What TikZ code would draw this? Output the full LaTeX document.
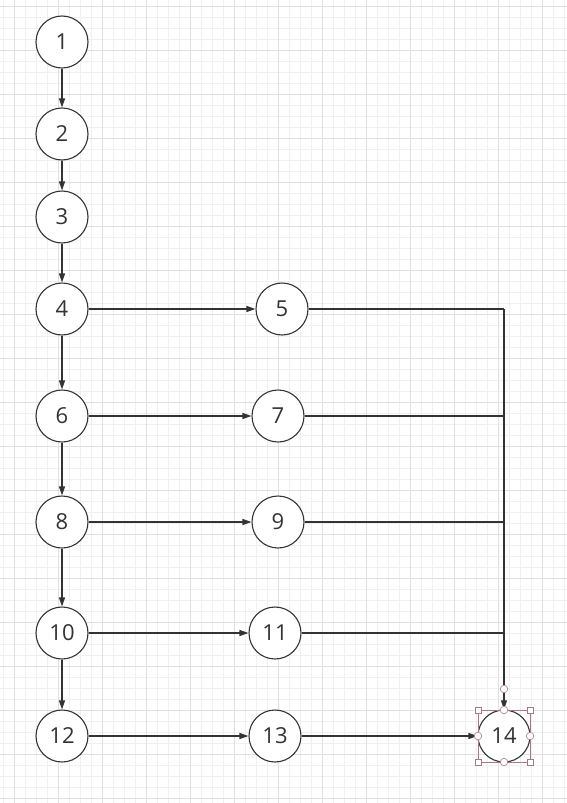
\documentclass[tikz,border=0pt]{standalone}
\usepackage{fontspec}
\setmainfont{Open Sans}
\usetikzlibrary{arrows.meta}
\definecolor{inkgray}{RGB}{51,51,51}
\definecolor{gridminor}{RGB}{240,240,240}
\definecolor{gridmajor}{RGB}{224,224,224}
\definecolor{handlecol}{RGB}{170,120,130}
\tikzset{
  state/.style={circle,draw=inkgray,line width=1.1pt,fill=white,minimum size=52pt,inner sep=0pt,text=inkgray,font=\fontsize{22}{25}\selectfont},
  flow/.style={draw=inkgray,line width=1.1pt,-{Triangle[length=9pt,width=6pt]}},
  plain/.style={draw=inkgray,line width=1.1pt},
  sizer/.style={draw=handlecol,fill=white,line width=0.6pt},
}
\begin{document}
\begin{tikzpicture}[x=1pt,y=-1pt]
\path[use as bounding box] (0,0) rectangle (567,803);
\fill[white] (0,0) rectangle (567,803);
% background grid
\foreach \gx in {3.5,14.5,...,567} \draw[gridminor,line width=0.4pt] (\gx,0) -- (\gx,803);
\foreach \gy in {6.5,17.5,...,803} \draw[gridminor,line width=0.4pt] (0,\gy) -- (567,\gy);
\foreach \gx in {14.5,58.5,...,567} \draw[gridmajor,line width=0.5pt] (\gx,0) -- (\gx,803);
\foreach \gy in {6.5,50.5,...,803} \draw[gridmajor,line width=0.5pt] (0,\gy) -- (567,\gy);
% nodes
\node[state] (n1) at (62,42) {1};
\node[state] (n2) at (62,134) {2};
\node[state] (n3) at (62,217) {3};
\node[state] (n4) at (62,309) {4};
\node[state] (n5) at (282,309) {5};
\node[state] (n6) at (62,416) {6};
\node[state] (n7) at (278,416) {7};
\node[state] (n8) at (62,522) {8};
\node[state] (n9) at (278,522) {9};
\node[state] (n10) at (62,633) {10};
\node[state] (n11) at (275,633) {11};
\node[state] (n12) at (62,736) {12};
\node[state] (n13) at (275,736) {13};
\node[state] (n14) at (504,736) {14};
% main chain
\draw[flow] (n1) -- (n2);
\draw[flow] (n2) -- (n3);
\draw[flow] (n3) -- (n4);
\draw[flow] (n4) -- (n6);
\draw[flow] (n6) -- (n8);
\draw[flow] (n8) -- (n10);
\draw[flow] (n10) -- (n12);
% branches
\draw[flow] (n4) -- (n5);
\draw[flow] (n6) -- (n7);
\draw[flow] (n8) -- (n9);
\draw[flow] (n10) -- (n11);
\draw[flow] (n12) -- (n13);
\draw[flow] (n13) -- (n14);
% merge into 14
\coordinate (bus) at (504,309);
\draw[plain] (n5) -- (bus);
\draw[plain] (n7.east) -- (n7.east -| bus);
\draw[plain] (n9.east) -- (n9.east -| bus);
\draw[plain] (n11.east) -- (n11.east -| bus);
\draw[flow] (bus) -- (n14);
% selection handles
\draw[handlecol,line width=0.5pt] (478,710) rectangle (530,762);
\foreach \hx/\hy in {478/710,530/710,478/762,530/762}
  \draw[sizer] (\hx-3,\hy-3) rectangle (\hx+3,\hy+3);
\foreach \hx/\hy in {504/710,478/736,530/736,504/762,504/689}
  \draw[sizer] (\hx,\hy) circle (3.8);
\end{tikzpicture}
\end{document}
